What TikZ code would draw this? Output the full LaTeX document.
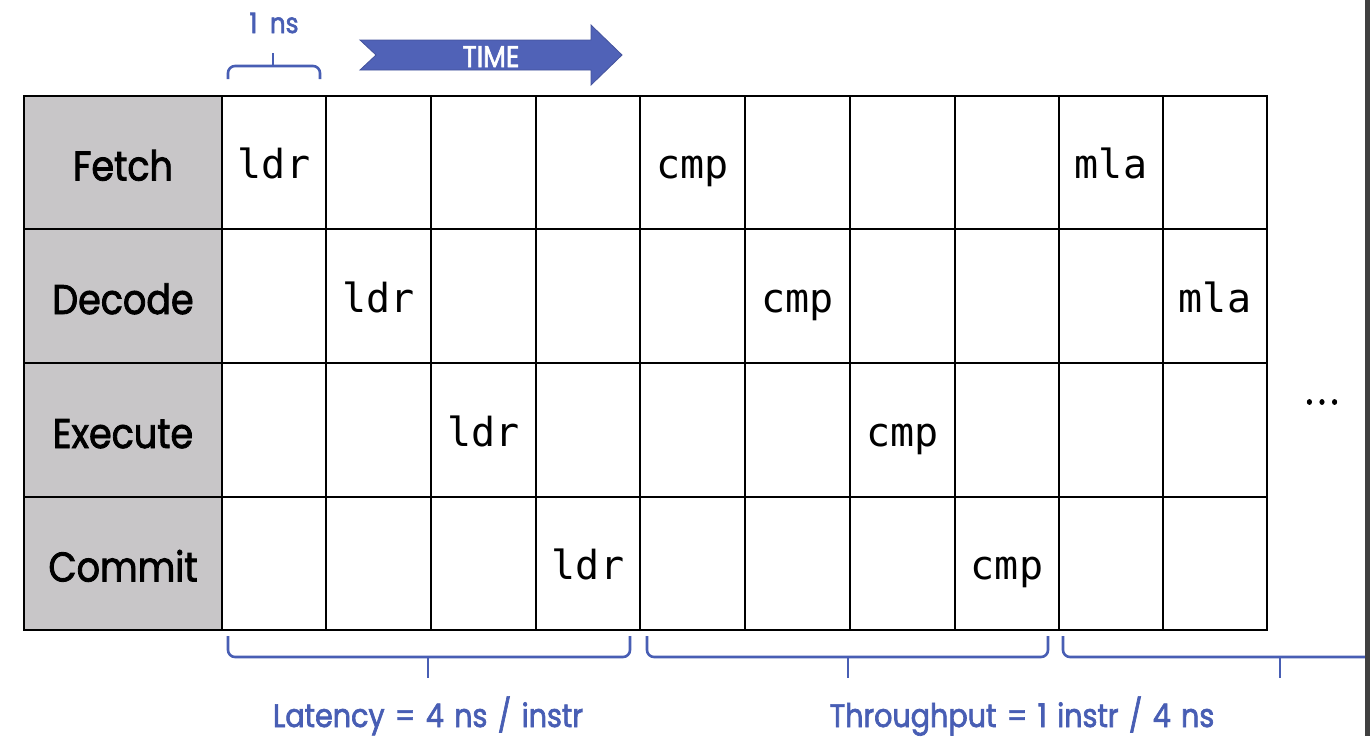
\documentclass[tikz,border=0pt]{standalone}
\usepackage{fontspec}
\setmainfont{Poppins}[FakeStretch=0.88, WordSpace=1.35, FakeBold=2]
\newfontfamily\monofont{DejaVu Sans Mono}
\definecolor{lblue}{RGB}{72,94,180}
\definecolor{afill}{RGB}{80,98,183}
\definecolor{lgrey}{RGB}{200,198,200}
\tikzset{
  cellbox/.style={draw=black, line width=1.8pt, fill=white, inner sep=0pt},
  stagebox/.style={draw=black, line width=1.8pt, fill=lgrey, inner sep=0pt},
  stagetxt/.style={font=\fontsize{41.5}{44}\selectfont, anchor=base, inner sep=0pt},
  instr/.style={font=\monofont\fontsize{40}{44}\selectfont, anchor=base, inner sep=0pt},
  bluetxt/.style={text=lblue, font=\fontsize{32.5}{34}\selectfont, anchor=base, inner sep=0pt},
  bracepath/.style={draw=lblue, line width=2.6pt, rounded corners=7pt},
}
\begin{document}
\begin{tikzpicture}[x=1pt,y=-1pt]
\useasboundingbox (0,0) rectangle (1370,736);
\fill[white] (0,0) rectangle (1370,736);
% stage labels
\foreach \r/\yt/\yb/\name in {1/96/229/Fetch, 2/229/363/Decode, 3/363/497/Execute, 4/497/630/Commit}{
  \node[stagebox, minimum width=198pt, minimum height={(\yb-\yt)*1pt}] (s\r) at (123,{(\yt+\yb)/2}) {};
  \node[stagetxt] (st\r) at ([yshift=-18pt]s\r.center) {\name};
}
% cells
\foreach \i/\xl/\xr in {1/222/326, 2/326/431, 3/431/536, 4/536/640, 5/640/745, 6/745/850, 7/850/955, 8/955/1059, 9/1059/1163, 10/1163/1267}{
  \foreach \r/\yt/\yb in {1/96/229, 2/229/363, 3/363/497, 4/497/630}{
    \node[cellbox, minimum width={(\xr-\xl)*1pt}, minimum height={(\yb-\yt)*1pt}] (c-\r-\i) at ({(\xl+\xr)/2},{(\yt+\yb)/2}) {};
  }
}
% instructions
\foreach \r/\i/\t in {1/1/ldr, 2/2/ldr, 3/3/ldr, 4/4/ldr, 1/5/cmp, 2/6/cmp, 3/7/cmp, 4/8/cmp, 1/9/mla, 2/10/mla}{
  \node[instr] (t-\r-\i) at ([yshift=-16pt]c-\r-\i.center) {\t};
}
\node[font=\fontsize{40}{40}\selectfont, inner sep=0pt] (dots) at (1322,402) {.\hspace{0.13em}.\hspace{0.13em}.};
% top brace
\coordinate (tb1) at (228,79);
\coordinate (tb2) at (320,79);
\draw[bracepath] (tb1) -- (228,66) -- (320,66) -- (tb2);
\draw[draw=lblue, line width=2.6pt] (273,66) -- (273,53) coordinate (tbtip);
\node[bluetxt, font=\fontsize{28}{30}\selectfont] (ns) at (274,33) {1\hspace{0.45em}ns};
% TIME arrow
\draw[fill=afill, draw=afill!85!black, line width=0.8pt] (360,40) coordinate (ta) -- (591,40) -- (591,25) -- (622,55) coordinate (ttip) -- (591,85) -- (591,70) -- (360,70) -- (376,55) -- cycle;
\node[text=white, font=\fontsize{30}{30}\selectfont, anchor=base, inner sep=0pt] (time) at (491,67) {TIME};
% bottom braces
\draw[bracepath] (228,636) -- (228,657) -- (630,657) -- (630,636);
\draw[draw=lblue, line width=2.6pt] (428,657) -- (428,678) coordinate (b1tip);
\draw[bracepath] (647,636) -- (647,657) -- (1048,657) -- (1048,636);
\draw[draw=lblue, line width=2.6pt] (848,657) -- (848,678) coordinate (b2tip);
\draw[bracepath] (1063,636) -- (1063,657) -- (1368,657);
\draw[draw=lblue, line width=2.6pt] (1280,657) -- (1280,678) coordinate (b3tip);
\node[bluetxt] (lat) at (428,727) {Latency = 4 ns / instr};
\node[bluetxt] (thr) at (1022,727) {Throughput = 1 instr / 4 ns};
\fill[black!75] (1365,0) rectangle (1370,736);
\end{tikzpicture}
\end{document}
